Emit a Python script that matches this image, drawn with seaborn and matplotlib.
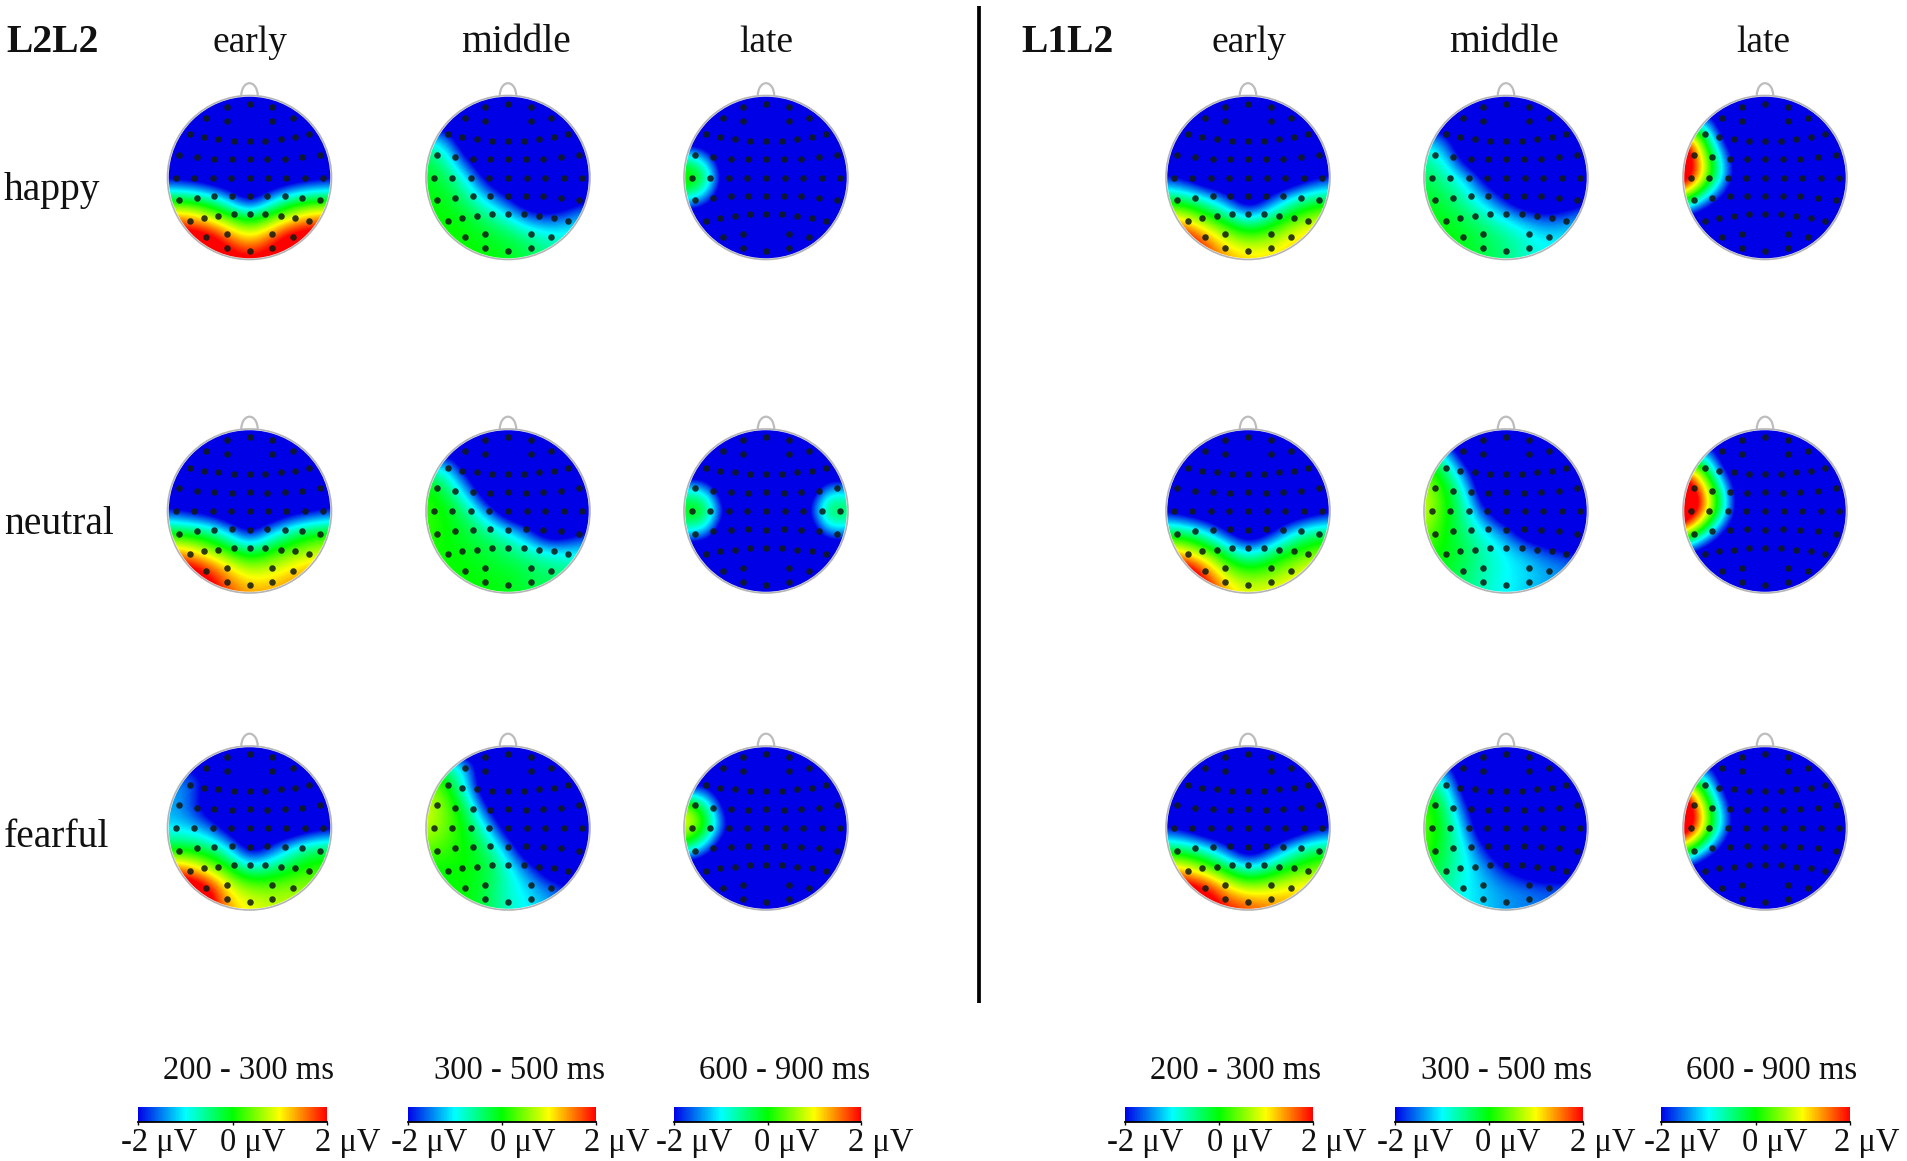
import matplotlib
matplotlib.use("Agg")
import matplotlib.pyplot as plt
import seaborn as sb
import numpy as np
from matplotlib.colors import LinearSegmentedColormap
from matplotlib.patches import Circle, Ellipse

W, H = 1907, 1161
S = 1907 / 1568

# electrode positions on the unit head
elec_x = [0, -.28, .28,
          -.53, -.28, .28, .53,
          -.73, -.56, -.38, -.19, 0, .19, .38, .56, .73,
          -.86, -.645, -.43, -.216, 0, .216, .43, .645, .86,
          -.90, -.68, -.45, -.23, 0, .23, .45, .68, .90,
          -.86, -.645, -.43, -.216, 0, .216, .43, .645, .86,
          -.73, -.56, -.38, -.19, 0, .19, .38, .56, .73,
          -.53, -.28, .28, .53,
          0, -.28, .28]
elec_y = [.90, .86, .86,
          .73, .69, .69, .73,
          .53, .49, .47, .45, .45, .45, .47, .49, .53,
          .28, .245, .23, .22, .23, .22, .23, .245, .28,
          0, 0, 0, 0, 0, 0, 0, 0, 0,
          -.28, -.245, -.23, -.22, -.23, -.22, -.23, -.245, -.28,
          -.53, -.49, -.47, -.45, -.45, -.45, -.47, -.49, -.53,
          -.73, -.69, -.69, -.73,
          -.90, -.86, -.86]

# potentials in uV, rows from front (y=1) to back (y=-1), columns left to right
B = [-3] * 9

l2_happy_early = [B, B, B, B,
    [-2.2, -2.4, -2.7, -3, -3, -3, -2.7, -2.4, -2.2],
    [-.3, -.3, -.6, -1.4, -2.6, -1.4, -.6, -.3, -.3],
    [1.6, 1.5, 1, .4, -.1, .4, 1, 1.5, 1.6],
    [2.6, 2.5, 2.5, 1.7, 1.1, 1.7, 2.5, 2.5, 2.6],
    [2.8, 2.8, 2.6, 2.4, 2.2, 2.4, 2.6, 2.8, 2.8]]
l2_happy_middle = [B, B,
    [-1, -1.6, -3, -3, -3, -3, -3, -3, -3],
    [-.3, -.7, -2.2, -3, -3, -3, -3, -3, -3],
    [-.1, -.3, -1, -2.4, -3, -3, -3, -3, -3],
    [0, -.1, -.5, -1.2, -2, -3, -3, -2.6, -2.2],
    [0, 0, -.1, -.4, -.8, -1.5, -1.7, -1.4, -1],
    [0, .1, 0, -.1, -.2, -.4, -.7, -.8, -.8],
    [0, .1, 0, 0, -.1, -.3, -.5, -.6, -.6]]
l2_happy_late = [B, B, B,
    [-.6, -1.3, -3, -3, -3, -3, -3, -3, -3],
    [.5, .1, -2.6, -3, -3, -3, -3, -1.9, -1.8],
    [-.6, -1.3, -3, -3, -3, -3, -3, -3, -3],
    B, B, B]
l2_neutral_early = [B, B, B, B,
    [-1.9, -2.2, -2.5, -3, -3, -3, -2.5, -2.2, -1.9],
    [-.2, -.3, -.5, -1.2, -2.4, -1.3, -.6, -.2, -.1],
    [1.4, 1.2, .7, .2, -.3, .1, .4, .7, .9],
    [2.6, 2.5, 2, 1.3, .8, .9, 1.2, 1.4, 1.4],
    [2.8, 2.7, 2.4, 1.7, 1.4, 1.4, 1.5, 1.6, 1.6]]
l2_neutral_middle = [B,
    [-3, -2.4, -3, -3, -3, -3, -3, -3, -3],
    [-.6, -.9, -2.5, -3, -3, -3, -3, -3, -3],
    [.1, -.3, -1.3, -3, -3, -3, -3, -3, -3],
    [.2, 0, -.5, -1.5, -3, -3, -3, -3, -3],
    [.2, 0, -.2, -.5, -.9, -1.8, -3, -2.5, -2],
    [.1, 0, -.1, -.2, -.4, -.6, -.9, -1, -1],
    [.1, .1, 0, -.1, -.1, -.3, -.4, -.5, -.5],
    [0, 0, 0, 0, -.1, -.2, -.3, -.4, -.4]]
l2_neutral_late = [B, B, B,
    [-.8, -1, -3, -3, -3, -3, -3, -1.1, -1.3],
    [.1, .3, -2.2, -3, -3, -3, -2.2, .1, -.2],
    [-.8, -1, -3, -3, -3, -3, -3, -1.1, -1.3],
    B, B, B]
l2_fearful_early = [B,
    [-2, -2, -2.3, -3, -3, -3, -3, -3, -3],
    [-1.3, -1.4, -2.2, -3, -3, -3, -3, -3, -3],
    [-1.3, -1.6, -2.5, -3, -3, -3, -3, -3, -3],
    [-1.1, -1.2, -1.5, -2.5, -3, -3, -3, -2.5, -2.2],
    [-.2, -.2, -.4, -1, -2.6, -1.9, -.9, -.4, -.3],
    [1.6, 1.4, .7, .1, -.7, -.4, -.1, .2, .2],
    [3, 2.8, 2.3, 1, .6, .5, .6, .6, .6],
    [3.3, 3, 2.4, 1.3, 1, .8, .8, .9, .9]]
l2_fearful_middle = [B,
    [-.5, -.5, -1.2, -3, -3, -3, -3, -3, -3],
    [.6, .2, -1.2, -3, -3, -3, -3, -3, -3],
    [.9, .4, -.3, -2.2, -3, -3, -3, -3, -3],
    [.8, .4, -.1, -1, -2.7, -3, -3, -3, -3],
    [.4, .2, 0, -.4, -1.4, -3, -3, -3, -3],
    [0, 0, 0, -.2, -.8, -1.6, -2.6, -3, -3],
    [-.1, 0, 0, -.3, -.8, -1.1, -1.5, -1.8, -2],
    [-.2, 0, 0, -.3, -.8, -1, -1.3, -1.6, -1.8]]
l2_fearful_late = [B, B,
    [-2.2, -2, -3, -3, -3, -3, -3, -3, -3],
    [.9, -.2, -2.4, -3, -3, -3, -3, -3, -3],
    [1.1, .3, -1.9, -3, -3, -3, -3, -3, -3],
    [-.2, -1.3, -3, -3, -3, -3, -3, -3, -3],
    B, B, B]
l1_happy_early = [B, B, B, B,
    [-1.9, -2.3, -3, -3, -3, -3, -3, -2.3, -1.9],
    [-.3, -.5, -1, -1.8, -3, -2, -1, -.5, -.4],
    [1.2, .9, .3, -.3, -1, -.4, .2, .6, .9],
    [2.6, 2.2, 1.5, .8, .5, .6, 1, 1.3, 1.5],
    [2.9, 2.6, 1.9, 1.4, 1.2, 1.2, 1.3, 1.5, 1.6]]
l1_happy_middle = [B, B,
    [-1.2, -1.8, -3, -3, -3, -3, -3, -3, -3],
    [-.6, -1, -2.6, -3, -3, -3, -3, -3, -3],
    [-.3, -.6, -1.1, -2.4, -3, -3, -3, -3, -3],
    [-.1, -.3, -.7, -1.3, -2.2, -3, -3, -2.7, -2.3],
    [0, -.1, -.3, -.6, -1, -1.4, -1.7, -1.5, -1.2],
    [.1, 0, -.1, -.3, -.5, -.8, -1, -1, -1],
    [.1, 0, -.1, -.3, -.5, -.8, -1, -1, -1]]
l1_happy_late = [B,
    [-3, -1.5, -3, -3, -3, -3, -3, -3, -3],
    [2, 0, -2.5, -3, -3, -3, -3, -3, -3],
    [3, .9, -1.4, -3, -3, -3, -3, -3, -3],
    [3, 1, -1.2, -3, -3, -3, -3, -3, -3],
    [.5, -1, -2.4, -3, -3, -3, -3, -3, -3],
    [-2.2, -3, -3, -3, -3, -3, -3, -3, -3],
    B, B]
l1_neutral_early = [B, B, B, B,
    [-2.2, -2.6, -3, -3, -3, -3, -3, -2.6, -2.2],
    [-.4, -.5, -1.1, -2.2, -3, -2.4, -1.2, -.6, -.5],
    [1.3, .9, .4, -.4, -1.2, -.5, 0, .3, .6],
    [2.8, 2.6, 1.6, .6, .3, .4, .7, 1.1, 1.3],
    [3.2, 3, 2.2, 1.3, .9, 1, 1.2, 1.3, 1.4]]
l1_neutral_middle = [B,
    [-.9, -1.2, -3, -3, -3, -3, -3, -3, -3],
    [.3, -.3, -1.8, -3, -3, -3, -3, -3, -3],
    [.8, .1, -.9, -3, -3, -3, -3, -3, -3],
    [.9, .1, -.6, -2, -3, -3, -3, -3, -3],
    [.6, 0, -.5, -1, -1.6, -2.7, -3, -3, -3],
    [.1, 0, -.3, -.7, -1, -1.3, -1.7, -2, -2],
    [-.1, -.1, -.4, -.7, -1, -1.1, -1.3, -1.4, -1.5],
    [-.2, -.2, -.5, -.8, -1, -1.2, -1.4, -1.5, -1.6]]
l1_neutral_late = [B,
    [-3, -1.2, -3, -3, -3, -3, -3, -3, -3],
    [1.6, .2, -2.2, -3, -3, -3, -3, -3, -3],
    [3.2, 1.5, -1, -3, -3, -3, -3, -3, -3],
    [3.4, 1.8, -.8, -3, -3, -3, -3, -3, -3],
    [1.5, -.3, -2.2, -3, -3, -3, -3, -3, -3],
    [-1.8, -2.6, -3, -3, -3, -3, -3, -3, -3],
    B, B]
l1_fearful_early = [B, B, B, B,
    [-2, -2.4, -3, -3, -3, -3, -3, -2.4, -2],
    [-.4, -.5, -1, -1.9, -3, -2.1, -1.1, -.5, -.4],
    [1.3, 1, .5, -.2, -.9, -.4, .1, .4, .7],
    [2.7, 2.5, 2.1, 1.2, .8, .9, 1.1, 1.2, 1.2],
    [3, 2.9, 2.5, 2, 1.8, 1.6, 1.4, 1.4, 1.4]]
l1_fearful_middle = [B,
    [-1.5, -1.5, -3, -3, -3, -3, -3, -3, -3],
    [-.3, -.7, -2.6, -3, -3, -3, -3, -3, -3],
    [.3, -.3, -1.9, -3, -3, -3, -3, -3, -3],
    [.4, -.2, -1.3, -3, -3, -3, -3, -3, -3],
    [.3, -.3, -1, -2, -3, -3, -3, -3, -2.7],
    [0, -.4, -.9, -1.4, -2, -2.5, -2.8, -2.6, -2.3],
    [-.3, -.6, -1, -1.2, -1.4, -1.5, -1.6, -1.6, -1.6],
    [-.4, -.7, -1, -1.2, -1.4, -1.5, -1.6, -1.6, -1.6]]
l1_fearful_late = [B,
    [-3, -1.5, -3, -3, -3, -3, -3, -3, -3],
    [1.5, -.2, -2.5, -3, -3, -3, -3, -3, -3],
    [3.2, .9, -1.6, -3, -3, -3, -3, -3, -3],
    [3.2, 1.1, -1.4, -3, -3, -3, -3, -3, -3],
    [.8, -.8, -2.5, -3, -3, -3, -3, -3, -3],
    [-2, -3, -3, -3, -3, -3, -3, -3, -3],
    B, B]

rows = [[l2_happy_early, l2_happy_middle, l2_happy_late, l1_happy_early, l1_happy_middle, l1_happy_late],
        [l2_neutral_early, l2_neutral_middle, l2_neutral_late, l1_neutral_early, l1_neutral_middle, l1_neutral_late],
        [l2_fearful_early, l2_fearful_middle, l2_fearful_late, l1_fearful_early, l1_fearful_middle, l1_fearful_late]]

windows = ["early", "middle", "late", "early", "middle", "late"]
window_size = [27, 28.5, 27, 27, 28.5, 27]
emotions = ["happy", "neutral", "fearful"]
ranges = ["200 - 300 ms", "300 - 500 ms", "600 - 900 ms"] * 2
bar_ticks = ["-2 μV", "0 μV", "2 μV"]

sb.set_style("white")
plt.rcParams["font.family"] = ["Liberation Serif", "DejaVu Serif"]
cmap = LinearSegmentedColormap.from_list("erp", ["#0000e6", "#00ffff", "#00ff00", "#ffff00", "#ff0000"])

head_x = [249.5, 508, 766, 1248, 1506, 1765]
head_y = [177.5, 511, 828]
R = 82
PAD = 1.25


def draw_head(vals, cx, cy):
    side = 2 * R * PAD
    ax = fig.add_axes([(cx - side / 2) / W, 1 - (cy + side / 2) / H, side / W, side / H])
    ax.add_patch(Ellipse((0, 1.0), .2, .3, fc="white", ec="#bdbdbd", lw=1.6, zorder=1))
    edge = Circle((0, 0), 1, fc="white", ec="#b4b4b4", lw=1.2, zorder=2)
    ax.add_patch(edge)
    im = ax.imshow(vals, cmap=cmap, vmin=-2, vmax=2, extent=(-1.125, 1.125, -1.125, 1.125),
                   interpolation="bicubic", interpolation_stage="data", zorder=3)
    im.set_clip_path(Circle((0, 0), .985, transform=ax.transData))
    sb.scatterplot(x=elec_x, y=elec_y, ax=ax, color="#101a14", alpha=.85, s=22, linewidth=0, zorder=4)
    ax.set_xlim(-PAD, PAD)
    ax.set_ylim(-PAD, PAD)
    ax.axis("off")


def draw_bar(x0, x1):
    ax = fig.add_axes([x0 / W, 1 - 1122 / H, (x1 - x0) / W, 15 / H])
    sb.heatmap(np.linspace(-2, 2, 256).reshape(1, -1), cmap=cmap, vmin=-2, vmax=2, cbar=False, ax=ax,
               xticklabels=False, yticklabels=False)
    ax.set_xticks([0, 128, 256])
    ax.set_yticks([])
    ax.tick_params(axis="x", length=2, width=1, color="black", bottom=True, labelbottom=False)
    for name, sp in ax.spines.items():
        sp.set_visible(name == "bottom")
        sp.set_color("black")
        sp.set_linewidth(1.3)


fig = plt.figure(figsize=(W / 100, H / 100), dpi=100, facecolor="white")

for r, row in enumerate(rows):
    for c, vals in enumerate(row):
        draw_head(vals, head_x[c], head_y[r])

bar_x = [(138, 327), (407.5, 596), (674, 861), (1125, 1313), (1395, 1583), (1661, 1850)]
for x0, x1 in bar_x:
    draw_bar(x0, x1)

# page axes in reference pixels for the loose text and divider
page = fig.add_axes([0, 0, 1, 1], zorder=10)
page.set_xlim(0, W)
page.set_ylim(H, 0)
page.axis("off")
page.patch.set_alpha(0)
page.plot([979, 979], [6, 1003], color="black", lw=2.7, solid_capstyle="butt")


def label(x, y, s, size=26, **kw):
    page.text(x * S, y * S, s, fontsize=size, ha=kw.pop("ha", "center"), va="center", color="#111111", **kw)


label(5, 35, "L2L2", size=28.5, ha="left", weight="bold")
label(840, 35, "L1L2", size=28.5, ha="left", weight="bold")
for x, s, fs in zip([205.5, 424, 630, 1027, 1237, 1450], windows, window_size):
    label(x, 35, s, size=fs)
for y, s in zip([157, 431, 689], emotions):
    label(3, y, s, size=28.5, ha="left")
for x, s in zip([204, 427, 645, 1016, 1239, 1457], ranges):
    label(x, 880, s, size=23.5)
tick_x = [[131, 208, 286], [353, 430, 507], [571, 647, 724],
          [942, 1019, 1097], [1164, 1240, 1318], [1383, 1459, 1535]]
for xs in tick_x:
    for x, s in zip(xs, bar_ticks):
        label(x, 940, s, size=23.5)

fig.savefig("out.png", dpi=100)
